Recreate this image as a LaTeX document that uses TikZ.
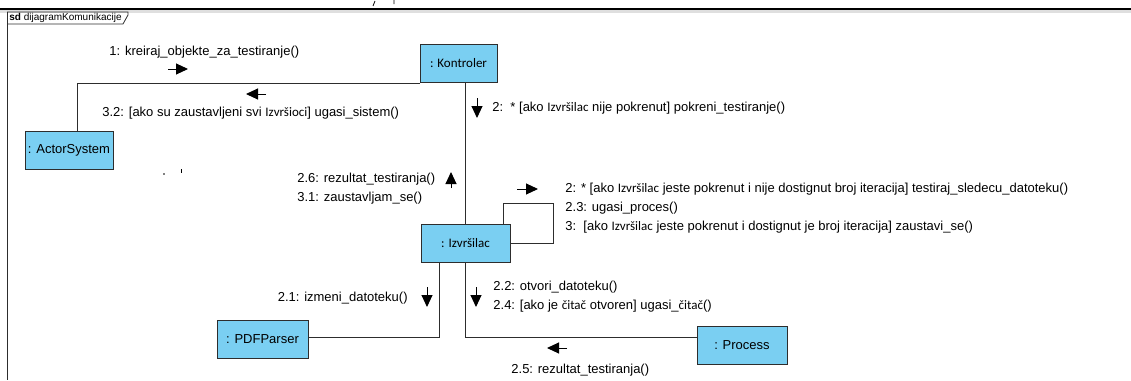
\documentclass[tikz,border=0pt]{standalone}
\usepackage{fontspec}
\setmainfont{Liberation Sans}
\newfontfamily\calib{Carlito}
\usetikzlibrary{arrows.meta}
\definecolor{objblue}{RGB}{122,207,242}
\definecolor{linegray}{RGB}{45,45,45}
\newcommand\izv[1]{{\calib #1}}

\begin{document}
\begin{tikzpicture}[x=1pt,y=-1pt,>={Triangle[length=12pt,width=11pt]},line width=0.8pt,
		obj/.style={draw=linegray,fill=objblue,inner sep=0pt,minimum height=38,font=\fontsize{13}{15}\selectfont},
		msg/.style={->,line width=1pt,black},
		lbl/.style={inner sep=0pt,font=\fontsize{13}{15}\selectfont}]
			\useasboundingbox (0,0) rectangle (1131,380);
			\fill[gray!25] (0,10) rectangle (1131,12.5);
			\draw[line width=1.5pt] (0,9) -- (1131,9);
			\draw (373,6) -- (375,1) (394,0) -- (394,4);
			\draw[linegray] (7,12) -- (7,380);
			\draw[linegray] (7,12) -- (128,12) -- (128,15) -- (123,24) -- (7,24);
			\node[inner sep=0pt,anchor=west,font=\fontsize{10}{12}\selectfont] (frame) at (9,18) {\textbf{sd} dijagramKomunikacije};
			\foreach \n/\x/\y/\w/\t in {kontroler/458.5/63.5/77/{\izv{: Kontroler}},actor/69/150/88/{: ActorSystem},
				izvrsilac/465.5/243/89/{\izv{: Izvršilac}},pdf/262.5/339.5/91/{: PDFParser},proc/742/345/90/{: Process}}
				{\node[obj,minimum width=\w] (\n) at (\x,\y) {\t};}
			\coordinate (loop) at (553,203);
			\draw[linegray] (kontroler.south west) -| ([xshift=8]actor.north);
			\draw[linegray] (kontroler.south -| izvrsilac.north) -- (izvrsilac.north);
			\draw[linegray] ([xshift=-26]izvrsilac.south) |- ([yshift=2]pdf.east);
			\draw[linegray] (izvrsilac.south) |- ([yshift=8]proc.west);
			\draw[linegray] ([xshift=-7]izvrsilac.north east) |- (loop) |- (izvrsilac.east);
			\foreach \p/\q in {{(168,69)}/{(188,69)},{(266,94)}/{(246,94)},{(477,98)}/{(477,118)},{(451,188)}/{(451,172)},
				{(517,189)}/{(538,189)},{(427,287)}/{(427,307)},{(476,287)}/{(476,307)},{(567,348)}/{(547,348)}}
				{\draw[msg] \p -- \q;}
			\node[lbl,anchor=west] (m1) at (109,52) {1: kreiraj\_objekte\_za\_testiranje()};
			\node[lbl,anchor=west] (m32) at (102,113) {3.2: [ako su zaustavljeni svi \izv{Izvršioci}] ugasi\_sistem()};
			\node[lbl,anchor=west] (m2) at (492,108) {2:\ \ * [ako \izv{Izvršilac} nije pokrenut] pokreni\_testiranje()};
			\node[lbl,anchor=west] (m26) at (297,179) {2.6: rezultat\_testiranja()};
			\node[lbl,anchor=west] (m31) at (297,198) {3.1: zaustavljam\_se()};
			\node[lbl,anchor=west] (m2b) at (565,189) {2: * [ako \izv{Izvršilac} jeste pokrenut i nije dostignut broj iteracija] testiraj\_sledecu\_datoteku()};
			\node[lbl,anchor=west] (m23) at (565,208) {2.3: ugasi\_proces()};
			\node[lbl,anchor=west] (m3) at (565,227) {3:\ \ [ako \izv{Izvršilac} jeste pokrenut i dostignut je broj iteracija] zaustavi\_se()};
			\node[lbl,anchor=east] (m21) at (408,298) {2.1: izmeni\_datoteku()};
			\node[lbl,anchor=west] (m22) at (493,287) {2.2: otvori\_datoteku()};
			\node[lbl,anchor=west] (m24) at (493,306) {2.4: [ako je \izv{čitač} otvoren] ugasi\_\izv{čitač}()};
			\node[lbl,anchor=west] (m25) at (511,370) {2.5: rezultat\_testiranja()};
			\fill (164,174) circle (0.8);
			\draw (181,169) -- (181,172.5);
		\end{tikzpicture}
\end{document}
